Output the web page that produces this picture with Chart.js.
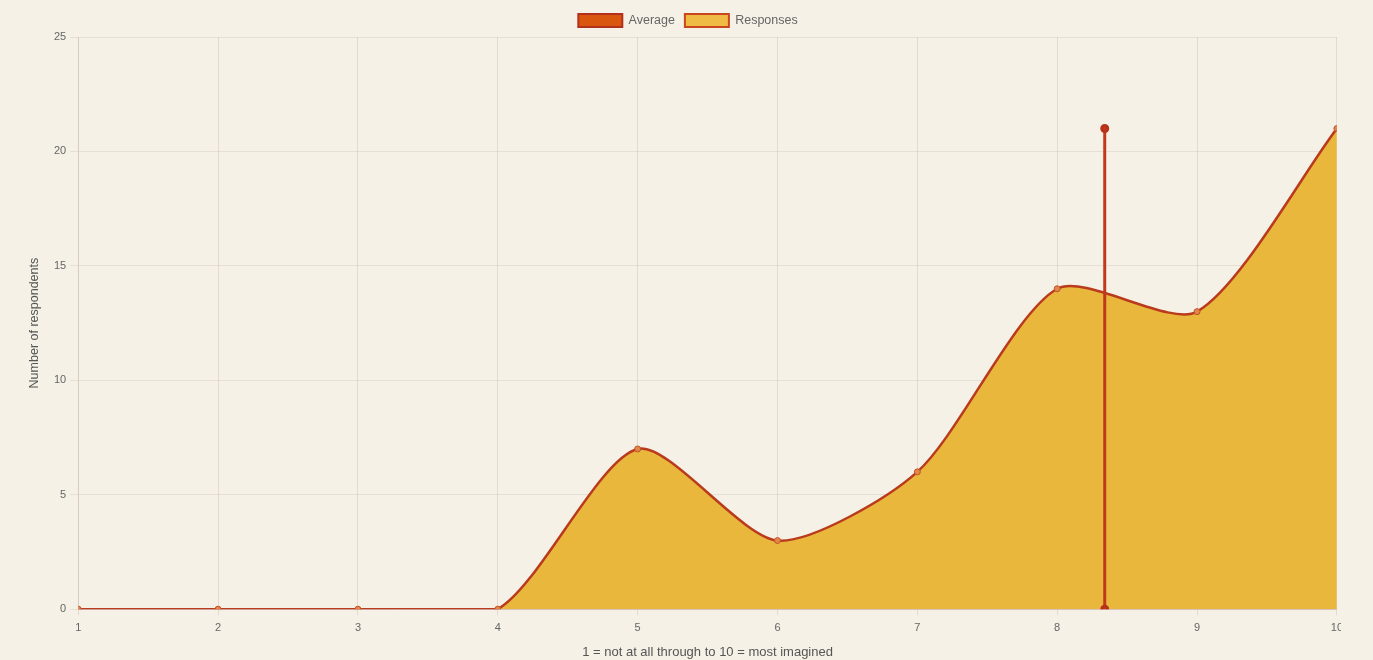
<!DOCTYPE html>
<html>
<head>
<meta charset="utf-8">
<script src="https://cdn.jsdelivr.net/npm/chart.js@4/dist/chart.umd.min.js"></script>
<style>
  html, body { margin: 0; padding: 0; background: #f5f1e6; overflow: hidden; }
  #clip { position: relative; width: 1341px; height: 660px; overflow: hidden; }
  #wrap { position: relative; width: 1349px; height: 660px; }
</style>
</head>
<body>
<div id="clip"><div id="wrap"><canvas id="chart"></canvas></div></div>
<script>
// Scale points (1 = not at all through to 10 = most imagined)
const scorePoints = [1, 2, 3, 4, 5, 6, 7, 8, 9, 10];
// Number of respondents choosing each score
const responseCounts = [0, 0, 0, 0, 7, 3, 6, 14, 13, 21];
// Mean score, drawn as a vertical marker
const averageScore = 8.34;
const averageSpan = [0, 21];
const yTicks = [0, 5, 10, 15, 20, 25];

const responsePoints = scorePoints.map((x, i) => ({ x: x, y: responseCounts[i] }));
const averagePoints = averageSpan.map(y => ({ x: averageScore, y: y }));

Chart.defaults.font.family = "'Liberation Sans', Arial, Helvetica, sans-serif";
Chart.defaults.font.size = 11;
Chart.defaults.color = '#666';

new Chart(document.getElementById('chart'), {
  type: 'scatter',
  data: {
    datasets: [
      {
        label: 'Average',
        data: averagePoints,
        showLine: true,
        borderColor: '#c0391b',
        backgroundColor: '#d9560f',
        borderWidth: 3,
        pointRadius: 3,
        pointBackgroundColor: '#c0391b',
        pointBorderColor: '#b8321a',
        fill: false,
        order: 0
      },
      {
        label: 'Responses',
        data: responsePoints,
        showLine: true,
        tension: 0.25,
        borderColor: '#b93a1c',
        backgroundColor: '#e9b73c',
        borderWidth: 2.5,
        pointRadius: 3,
        pointBackgroundColor: '#e0874a',
        pointBorderColor: '#c4502a',
        pointBorderWidth: 1,
        fill: 'origin',
        order: 1
      }
    ]
  },
  options: {
    responsive: true,
    maintainAspectRatio: false,
    animation: false,
    layout: { padding: { top: 4, left: 27, right: 0, bottom: 0 } },
    plugins: {
      legend: {
        position: 'top',
        labels: {
          boxWidth: 44,
          boxHeight: 13,
          padding: 10,
          color: '#666',
          font: { size: 12.5 },
          generateLabels: function (chart) {
            const fills = ['#d9560f', '#f0bb44'];
            const borders = ['#b3301a', '#c8471e'];
            return chart.data.datasets.map((ds, i) => ({
              text: ds.label,
              fillStyle: fills[i],
              strokeStyle: borders[i],
              lineWidth: 2,
              hidden: false,
              datasetIndex: i,
              fontColor: '#666'
            }));
          }
        }
      },
      tooltip: { enabled: false }
    },
    scales: {
      x: {
        type: 'linear',
        min: 1,
        max: 10,
        afterBuildTicks: axis => { axis.ticks = scorePoints.map(v => ({ value: v })); },
        grid: { color: 'rgba(190,150,160,0.28)', tickLength: 6 },
        border: { color: 'rgba(190,150,160,0.4)' },
        ticks: { color: '#666', padding: 6 },
        title: {
          display: true,
          text: '1 = not at all through to 10 = most imagined',
          color: '#555',
          font: { size: 13 },
          padding: { top: 4, bottom: 0 }
        }
      },
      y: {
        min: 0,
        max: 25,
        afterBuildTicks: axis => { axis.ticks = yTicks.map(v => ({ value: v })); },
        grid: { color: 'rgba(200,190,180,0.35)', tickLength: 8 },
        border: { color: 'rgba(200,190,180,0.5)' },
        ticks: { color: '#666', padding: 4 },
        title: {
          display: true,
          text: 'Number of respondents',
          color: '#555',
          font: { size: 12.5 },
          padding: { top: 0, bottom: 8 }
        }
      }
    }
  }
});
</script>
</body>
</html>
